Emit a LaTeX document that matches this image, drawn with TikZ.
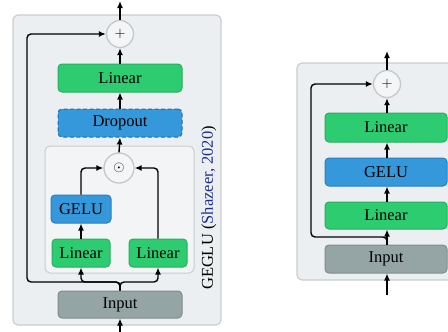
\documentclass[tikz,border=0pt]{standalone}
\usepackage{fontspec}
\setmainfont{Liberation Serif}
\usetikzlibrary{arrows.meta}
\definecolor{panelbg}{HTML}{ECEFF1}
\definecolor{panelbd}{HTML}{C9CDD0}
\definecolor{grnfill}{HTML}{2ECC71}
\definecolor{grnbd}{HTML}{27AE60}
\definecolor{blufill}{HTML}{3498DB}
\definecolor{blubd}{HTML}{2A7FBF}
\definecolor{gryfill}{HTML}{95A5A6}
\definecolor{grybd}{HTML}{7F8C8D}
\definecolor{circbd}{HTML}{C5C8CA}
\definecolor{citeblue}{RGB}{30,45,140}
\tikzset{
  panel/.style={draw=panelbd, fill=panelbg, line width=1.2pt, rounded corners=5pt, inner sep=0pt},
  blk/.style={rounded corners=4pt, line width=1pt, inner sep=0pt, minimum height=28pt,
    font=\fontsize{16.5}{18}\selectfont, text=black},
  grn/.style={blk, draw=grnbd, fill=grnfill},
  blu/.style={blk, draw=blubd, fill=blufill},
  gry/.style={blk, draw=grybd, fill=gryfill},
  opc/.style={circle, draw=circbd, fill=panelbg!60!white, line width=1.3pt, inner sep=0pt,
    font=\fontsize{15}{16}\selectfont},
  arr/.style={-{Latex[length=7pt,width=6pt]}, line width=1.4pt, black},
}
\begin{document}
\begin{tikzpicture}[x=1pt,y=-1pt]
\clip (0,0) rectangle (448,332);
% ---------- left (GEGLU) ----------
\node[panel, minimum width=208pt, minimum height=310pt] (lp) at (117,170) {};
\node[panel, line width=1pt, minimum width=149pt, minimum height=127pt, fill=panelbg!70!white] (ip) at (119.5,209.5) {};
\node[opc, minimum size=27pt] (plus1) at (120,34) {$+$};
\node[grn, minimum width=124pt] (lin1) at (120,78) {Linear};
\node[blu, minimum width=124pt, draw=blubd!85!black, dashed, dash pattern=on 4pt off 2.5pt] (drop) at (120,123) {Dropout};
\node[opc, minimum size=30pt, font=\fontsize{14}{15}\selectfont] (odot) at (119,168) {$\odot$};
\node[blu, minimum width=60pt] (gelu) at (81,209) {GELU};
\node[grn, minimum width=58pt] (linL) at (81,253) {Linear};
\node[grn, minimum width=58pt] (linR) at (158,253) {Linear};
\node[gry, minimum width=124pt, minimum height=27pt] (inp) at (120,304.5) {Input};
\node[rotate=90, font=\fontsize{16.5}{18}\selectfont] (lab) at (209,208) {GEGLU (\textcolor{citeblue}{Shazeer, 2020})};
\coordinate (bot1) at (120,333);
\coordinate (top1) at (120,1);
\coordinate (jn1) at (120,282);
\coordinate (sk1) at (27,282);
\draw[arr] (bot1) -- (inp.south);
\draw[arr, rounded corners=4pt] (inp.north) -- (jn1) -| (linL.south);
\draw[arr, rounded corners=4pt] (inp.north) -- (jn1) -| (linR.south);
\draw[arr, rounded corners=4pt] (inp.north) -- (jn1) -- (sk1) |- (plus1.west);
\draw[arr] (linL.north) -- (gelu.south);
\draw[arr, rounded corners=4pt] (gelu.north) |- (odot.west);
\draw[arr, rounded corners=4pt] (linR.north) |- (odot.east);
\draw[arr] (odot.north) -- (drop.south);
\draw[arr] (drop.north) -- (lin1.south);
\draw[arr] (lin1.north) -- (plus1.south);
\draw[arr] (plus1.north) -- (top1);
% ---------- right (MLP) ----------
\node[panel, minimum width=180pt, minimum height=217pt] (rp) at (387,171.5) {};
\node[opc, minimum size=27pt] (plus2) at (387,84) {$+$};
\node[grn, minimum width=122pt, minimum height=29pt] (lin2t) at (386,127.5) {Linear};
\node[blu, minimum width=122pt] (gelu2) at (386,172) {GELU};
\node[grn, minimum width=122pt, minimum height=27pt] (lin2b) at (386,215.5) {Linear};
\node[gry, minimum width=122pt] (inp2) at (386,259) {Input};
\coordinate (bot2) at (387,295);
\coordinate (top2) at (387,51);
\coordinate (jn2) at (387,237);
\coordinate (sk2) at (311,237);
\draw[arr] (bot2) -- (bot2 |- inp2.south);
\draw[arr] (bot2 |- inp2.north) -- (bot2 |- lin2b.south);
\draw[arr, rounded corners=4pt] (bot2 |- inp2.north) -- (jn2) -- (sk2) |- (plus2.west);
\draw[arr] (bot2 |- lin2b.north) -- (bot2 |- gelu2.south);
\draw[arr] (bot2 |- gelu2.north) -- (bot2 |- lin2t.south);
\draw[arr] (bot2 |- lin2t.north) -- (plus2.south);
\draw[arr] (plus2.north) -- (top2);
\end{tikzpicture}
\end{document}
